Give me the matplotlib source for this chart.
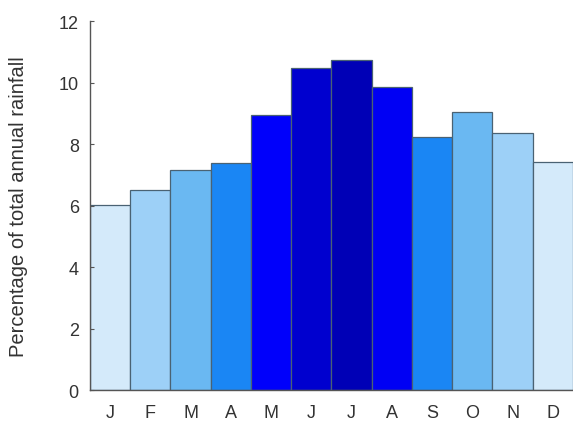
import matplotlib
matplotlib.use("Agg")
import matplotlib.pyplot as plt

months = ["J", "F", "M", "A", "M", "J", "J", "A", "S", "O", "N", "D"]
rainfall = [6.02, 6.5, 7.15, 7.38, 8.94, 10.47, 10.73, 9.85, 8.23, 9.04, 8.36, 7.41]
colours = ["#d4eafa", "#9dd0f7", "#6ab8f2", "#1a86f4", "#0000fb", "#0000cf",
           "#0000b6", "#0000f4", "#1a86f4", "#6ab8f2", "#9dd0f7", "#d4eafa"]

plt.rcParams["font.family"] = ["Liberation Sans", "DejaVu Sans"]

fig = plt.figure(figsize=(5.73, 4.35), dpi=100)
ax = fig.add_axes([0.157, 0.101, 0.843, 0.848])

x = range(len(months))
ax.bar(x, rainfall, width=1.0, color=colours, edgecolor="#4a6273", linewidth=0.9)

ax.set_xlim(-0.5, 11.5)
ax.set_ylim(0, 12)
ax.set_yticks([0, 2, 4, 6, 8, 10, 12])
ax.set_xticks(list(x))
ax.set_xticklabels(months)
ax.tick_params(axis="x", length=0, pad=10, labelsize=13, labelcolor="#333333")
ax.tick_params(axis="y", direction="in", length=3, pad=8, labelsize=13,
               labelcolor="#333333", color="#555555")
ax.set_ylabel("Percentage of total annual rainfall", fontsize=14.5, color="#333333", labelpad=22)

for s in ["top", "right"]:
    ax.spines[s].set_visible(False)
for s in ["left", "bottom"]:
    ax.spines[s].set_color("#555555")
    ax.spines[s].set_linewidth(1.0)

fig.savefig("out.png", dpi=100)
